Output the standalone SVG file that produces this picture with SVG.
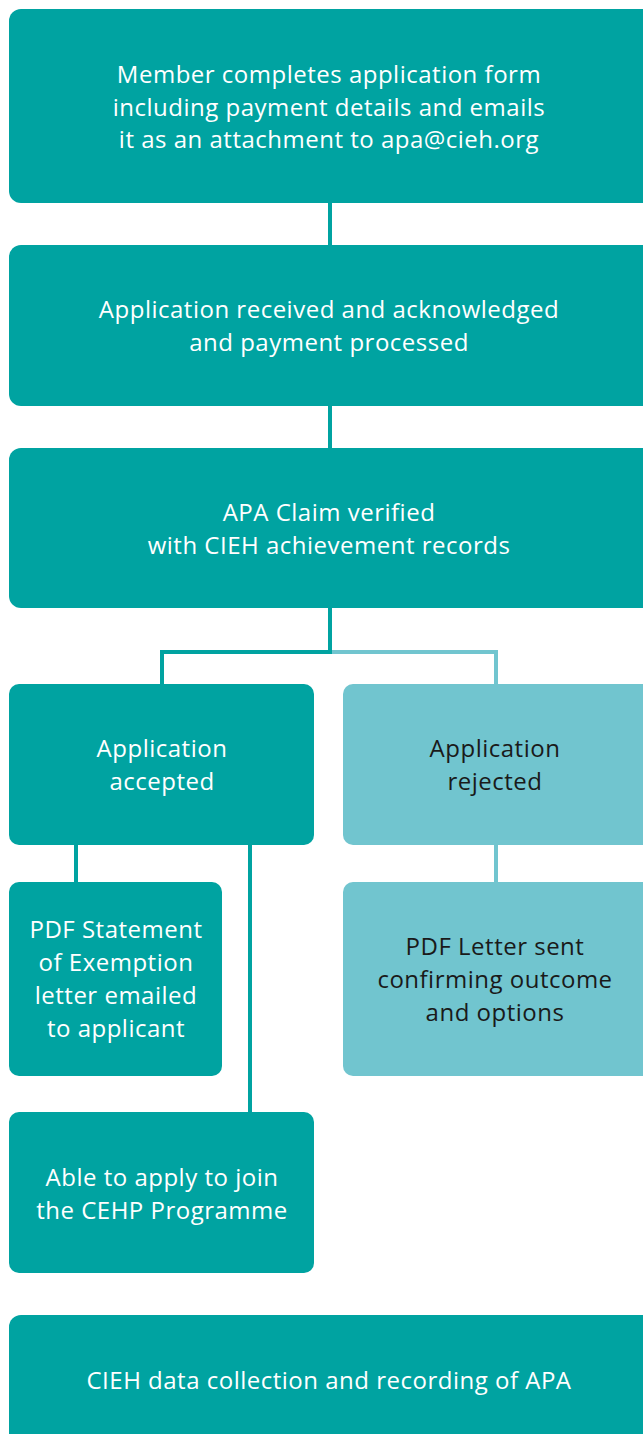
<svg xmlns="http://www.w3.org/2000/svg" width="643" height="1434" viewBox="0 0 643 1434">
<style>
.d{fill:#00A3A1}
.l{fill:#71C5CF}
.t{font-family:"Open Sans","Liberation Sans",sans-serif;font-size:24px;letter-spacing:0.5px;text-anchor:middle}
.w{fill:#ffffff}
.k{fill:#1a1a1a}
.cd{stroke:#00A3A1;stroke-width:4;fill:none}
.cl{stroke:#71C5CF;stroke-width:4;fill:none}
</style>
<rect width="643" height="1434" fill="#ffffff"/>
<g id="connectors">
<line class="cd" x1="330" y1="200" x2="330" y2="248"/>
<line class="cd" x1="330" y1="403" x2="330" y2="451"/>
<path class="cl" d="M330 652 H496 V687"/>
<path class="cd" d="M330 605 V652 H162 V687"/>
<line class="cd" x1="76" y1="842" x2="76" y2="885"/>
<line class="cd" x1="250" y1="842" x2="250" y2="1115"/>
<line class="cl" x1="496" y1="842" x2="496" y2="885"/>
</g>
<g id="n1">
<rect class="d" x="9" y="9" width="650" height="194" rx="12"/>
<text class="t w"><tspan x="329" y="83">Member completes application form</tspan><tspan x="329" y="116">including payment details and emails</tspan><tspan x="329" y="148">it as an attachment to apa@cieh.org</tspan></text>
</g>
<g id="n2">
<rect class="d" x="9" y="245" width="650" height="161" rx="12"/>
<text class="t w"><tspan x="329" y="318">Application received and acknowledged</tspan><tspan x="329" y="351">and payment processed</tspan></text>
</g>
<g id="n3">
<rect class="d" x="9" y="448" width="650" height="160" rx="12"/>
<text class="t w"><tspan x="329" y="521">APA Claim verified</tspan><tspan x="329" y="554">with CIEH achievement records</tspan></text>
</g>
<g id="n4">
<rect class="d" x="9" y="684" width="305" height="161" rx="10"/>
<text class="t w"><tspan x="162" y="757">Application</tspan><tspan x="162" y="790">accepted</tspan></text>
</g>
<g id="n5">
<rect class="l" x="343" y="684" width="316" height="161" rx="10"/>
<text class="t k"><tspan x="495" y="757">Application</tspan><tspan x="495" y="790">rejected</tspan></text>
</g>
<g id="n6">
<rect class="d" x="9" y="882" width="213" height="194" rx="10"/>
<text class="t w"><tspan x="116" y="938">PDF Statement</tspan><tspan x="116" y="971">of Exemption</tspan><tspan x="116" y="1004">letter emailed</tspan><tspan x="116" y="1037">to applicant</tspan></text>
</g>
<g id="n7">
<rect class="l" x="343" y="882" width="316" height="194" rx="10"/>
<text class="t k"><tspan x="495" y="955">PDF Letter sent</tspan><tspan x="495" y="988">confirming outcome</tspan><tspan x="495" y="1021">and options</tspan></text>
</g>
<g id="n8">
<rect class="d" x="9" y="1112" width="305" height="161" rx="10"/>
<text class="t w"><tspan x="162" y="1186">Able to apply to join</tspan><tspan x="162" y="1219">the CEHP Programme</tspan></text>
</g>
<g id="n9">
<rect class="d" x="9" y="1315" width="650" height="140" rx="12"/>
<text class="t w"><tspan x="329" y="1389">CIEH data collection and recording of APA</tspan></text>
</g>
</svg>
